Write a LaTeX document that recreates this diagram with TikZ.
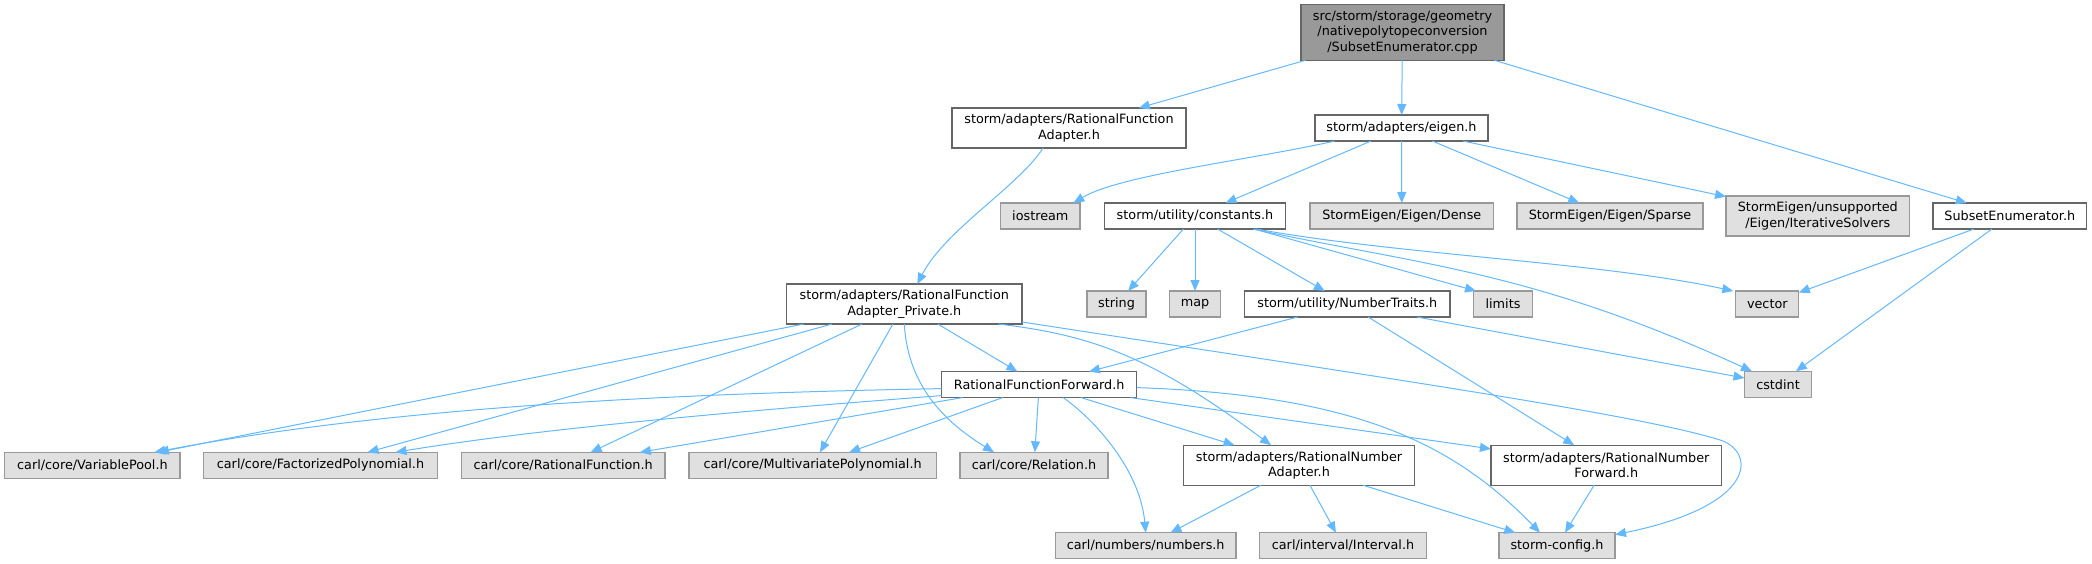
\documentclass[tikz,border=0pt]{standalone}
\usepackage{fontspec}
\setmainfont{DejaVu Sans}
\usetikzlibrary{arrows.meta}
\definecolor{edgeblue}{HTML}{63B8FF}
\definecolor{wborder}{HTML}{666666}
\definecolor{gborder}{HTML}{999999}
\definecolor{gfill}{HTML}{E0E0E0}
\definecolor{mainfill}{HTML}{999999}
\begin{document}
\begin{tikzpicture}[x=1pt,y=-1pt,
  every node/.style={font=\fontsize{12.8}{15.3}\selectfont, inner sep=0pt, outer sep=0pt, align=center, text=black},
  wbox/.style={draw=wborder, fill=white, line width=1.3pt, minimum height=26pt},
  gbox/.style={draw=gborder, fill=gfill, line width=1.3pt, minimum height=26pt},
  mainbox/.style={draw=wborder, fill=mainfill, line width=1.3pt},
  edge/.style={draw=edgeblue, line width=1pt, -{Triangle[length=11pt,width=9pt]}}]
\useasboundingbox (0,0) rectangle (2092,564);
% nodes
\node[mainbox, minimum width=203pt, minimum height=55.6pt] (main) at (1402.5,32.5) {src/storm/storage/geometry\\/nativepolytopeconversion\\/SubsetEnumerator.cpp};
\node[wbox, minimum width=234pt, minimum height=40pt] (rfa) at (1069,128) {storm/adapters/RationalFunction\\Adapter.h};
\node[wbox, minimum width=173pt] (eigen) at (1401.5,128) {storm/adapters/eigen.h};
\node[gbox, minimum width=79.5pt] (iostream) at (1040.3,216) {iostream};
\node[wbox, minimum width=181pt] (constants) at (1195,216) {storm/utility/constants.h};
\node[gbox, minimum width=183.5pt] (dense) at (1401.8,216) {StormEigen/Eigen/Dense};
\node[gbox, minimum width=186pt] (sparse) at (1610,216) {StormEigen/Eigen/Sparse};
\node[gbox, minimum width=183.5pt, minimum height=40pt] (unsup) at (1817.8,216) {StormEigen/unsupported\\/Eigen/IterativeSolvers};
\node[wbox, minimum width=153.6pt] (subset) at (2009.8,216) {SubsetEnumerator.h};
\node[wbox, minimum width=235.3pt, minimum height=40pt] (rfap) at (904.3,304) {storm/adapters/RationalFunction\\Adapter\_Private.h};
\node[gbox, minimum width=59pt] (string) at (1116.5,304) {string};
\node[gbox, minimum width=51pt] (map) at (1195,304) {map};
\node[wbox, minimum width=205.4pt] (numtraits) at (1347.3,304) {storm/utility/NumberTraits.h};
\node[gbox, minimum width=59pt] (limits) at (1503,304) {limits};
\node[gbox, minimum width=63pt] (vector) at (1767.3,304) {vector};
\node[gbox, minimum width=67pt] (cstdint) at (1778,384.3) {cstdint};
\node[wbox, minimum width=195pt] (rff) at (1039.2,384.6) {RationalFunctionForward.h};
\node[gbox, minimum width=175.3pt] (varpool) at (92.4,465.3) {carl/core/VariablePool.h};
\node[gbox, minimum width=233.7pt] (factpoly) at (320.5,465.3) {carl/core/FactorizedPolynomial.h};
\node[gbox, minimum width=203.6pt] (ratfun) at (563.2,465.3) {carl/core/RationalFunction.h};
\node[gbox, minimum width=247.2pt] (multipoly) at (812.6,465.3) {carl/core/MultivariatePolynomial.h};
\node[gbox, minimum width=148pt] (relation) at (1034,465.3) {carl/core/Relation.h};
\node[wbox, minimum width=230.8pt, minimum height=40pt] (rna) at (1299,465.2) {storm/adapters/RationalNumber\\Adapter.h};
\node[wbox, minimum width=230.7pt, minimum height=40pt] (rnf) at (1606.3,465.2) {storm/adapters/RationalNumber\\Forward.h};
\node[gbox, minimum width=180.6pt] (numbers) at (1145.7,545.7) {carl/numbers/numbers.h};
\node[gbox, minimum width=167pt] (interval) at (1343,545.7) {carl/interval/Interval.h};
\node[gbox, minimum width=116pt] (stormcfg) at (1557,545.7) {storm-config.h};
% edges
\draw[edge] (main) -- (rfa);
\draw[edge] (main) -- (eigen);
\draw[edge] (main) -- (subset);
\draw[edge] ([xshift=-26pt]rfa.south) .. controls (1020,185) and (945,230) .. ([xshift=13pt]rfap.north);
\draw[edge] ([xshift=-66.5pt]eigen.south) .. controls (1250,160) and (1120,175) .. ([xshift=33pt]iostream.north);
\draw[edge] (eigen) -- (constants);
\draw[edge] (eigen) -- (dense);
\draw[edge] (eigen) -- (sparse);
\draw[edge] (eigen) -- (unsup);
\draw[edge] (constants) -- (string);
\draw[edge] (constants) -- (map);
\draw[edge] (constants) -- (numtraits);
\draw[edge] ([xshift=59pt]constants.south) -- ([xshift=-27pt]limits.north);
\draw[edge] ([xshift=61pt]constants.south) .. controls (1400,255) and (1600,262) .. ([xshift=-34pt]vector.north);
\draw[edge] ([xshift=58pt]constants.south) .. controls (1420,265) and (1530,270) .. ([xshift=-26pt]cstdint.north);
\draw[edge] (subset) -- (vector);
\draw[edge] (subset) -- (cstdint);
\draw[edge] (numtraits) -- (rff);
\draw[edge] (numtraits) -- (rnf);
\draw[edge] (numtraits) -- (cstdint);
\draw[edge] (rfap) -- (varpool);
\draw[edge] (rfap) -- (factpoly);
\draw[edge] (rfap) -- (ratfun);
\draw[edge] (rfap) -- (multipoly);
\draw[edge] (rfap.south) .. controls (908,390) and (950,425) .. ([xshift=-40pt]relation.north);
\draw[edge] (rfap) -- (rff);
\draw[edge] ([xshift=94pt]rfap.south) .. controls (1090,335) and (1150,355) .. ([xshift=-28pt]rna.north);
\draw[edge] ([yshift=2pt]rfap.south east) .. controls (1400,380) and (1640,415) .. (1720,440) .. controls (1755,451) and (1760,505) .. ([yshift=-2pt]stormcfg.north east);
\draw[edge] ([yshift=-4pt]rff.west) .. controls (700,393) and (400,405) .. ([xshift=62pt]varpool.north);
\draw[edge] ([yshift=2pt]rff.south west) .. controls (820,405) and (560,425) .. ([xshift=75pt]factpoly.north);
\draw[edge] (rff) -- (ratfun);
\draw[edge] (rff) -- (multipoly);
\draw[edge] (rff) -- (relation);
\draw[edge] ([xshift=24pt]rff.south) .. controls (1095,420) and (1140,470) .. (numbers.north);
\draw[edge] (rff) -- (rna);
\draw[edge] (rff) -- (rnf);
\draw[edge] ([yshift=-3pt]rff.east) .. controls (1350,395) and (1450,440) .. ([xshift=-17pt]stormcfg.north);
\draw[edge] (rna) -- (numbers);
\draw[edge] (rna) -- (interval);
\draw[edge] (rna) -- (stormcfg);
\draw[edge] (rnf) -- (stormcfg);
\end{tikzpicture}
\end{document}
